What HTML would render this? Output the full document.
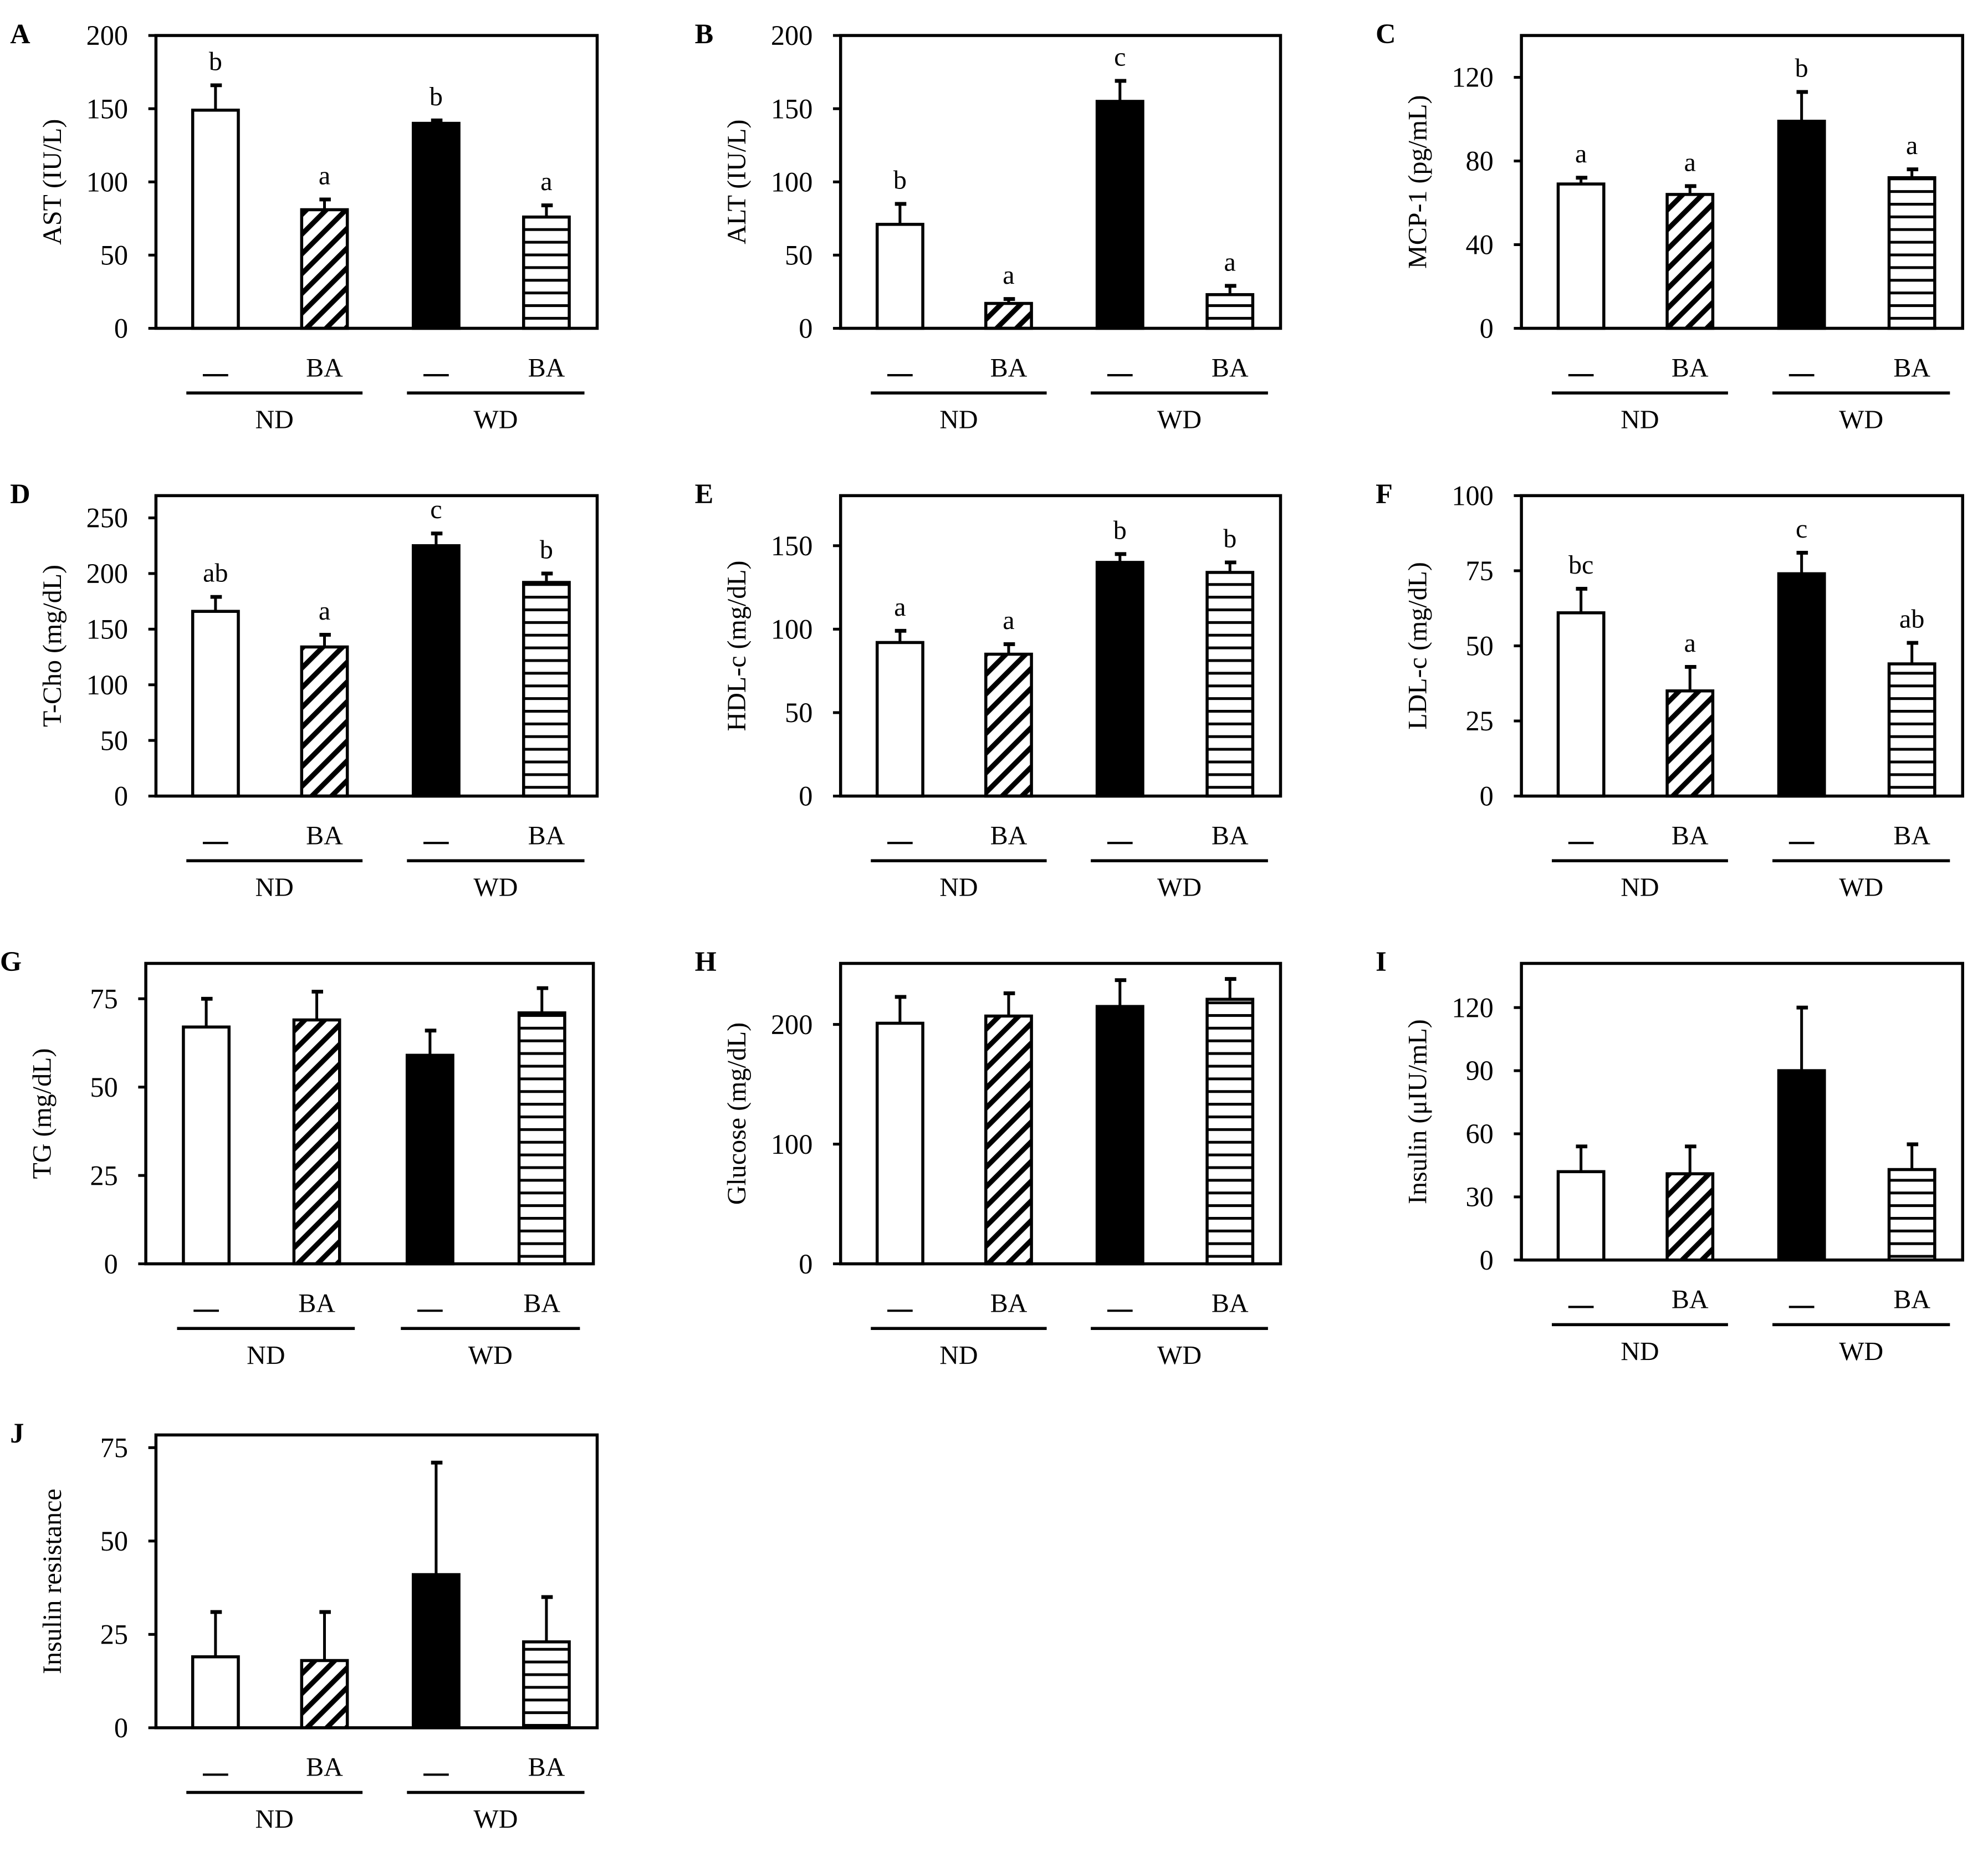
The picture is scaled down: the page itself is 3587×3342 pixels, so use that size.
<!DOCTYPE html>
<html><head><meta charset="utf-8">
<style>
html,body{margin:0;padding:0;background:#fff;}
svg{display:block;}
text{font-family:"Liberation Serif",serif;fill:#000;}
</style></head>
<body>
<svg id="fig" xmlns="http://www.w3.org/2000/svg" width="3587" height="3342" viewBox="0 0 1568 1461" preserveAspectRatio="none">
<defs>
<pattern id="diag" patternUnits="userSpaceOnUse" width="11" height="11" patternTransform="rotate(45)">
<rect width="11" height="11" fill="#fff"/><rect x="0" y="0" width="4" height="11" fill="#000"/>
</pattern>
<pattern id="horiz" patternUnits="userSpaceOnUse" width="10" height="10">
<rect width="10" height="10" fill="#fff"/><rect x="0" y="0" width="10" height="2.2" fill="#000"/>
</pattern>
</defs>
</svg>
<script>
// ---- data ----
const categories = ["ND —", "ND BA", "WD —", "WD BA"];
const meansA = [149, 81, 140, 76];   const errA = [17, 7, 2, 8];   const sigA = ["b","a","b","a"];
const meansB = [71, 17, 155, 23];    const errB = [14, 3, 14, 6];  const sigB = ["b","a","c","a"];
const meansC = [69, 64, 99, 72];     const errC = [3, 4, 14, 4];   const sigC = ["a","a","b","a"];
const meansD = [166, 134, 225, 192]; const errD = [13, 11, 11, 8]; const sigD = ["ab","a","c","b"];
const meansE = [92, 85, 140, 134];   const errE = [7, 6, 5, 6];    const sigE = ["a","a","b","b"];
const meansF = [61, 35, 74, 44];     const errF = [8, 8, 7, 7];    const sigF = ["bc","a","c","ab"];
const meansG = [67, 69, 59, 71];     const errG = [8, 8, 7, 7];    const sigG = ["","","",""];
const meansH = [201, 207, 215, 221]; const errH = [22, 19, 22, 17]; const sigH = ["","","",""];
const meansI = [42, 41, 90, 43];     const errI = [12, 13, 30, 12]; const sigI = ["","","",""];
const meansJ = [19, 18, 41, 23];     const errJ = [12, 13, 30, 12]; const sigJ = ["","","",""];
const ticksA = [0,50,100,150,200];
const ticksB = [0,50,100,150,200];
const ticksC = [0,40,80,120];
const ticksD = [0,50,100,150,200,250];
const ticksE = [0,50,100,150];
const ticksF = [0,25,50,75,100];
const ticksG = [0,25,50,75];
const ticksH = [0,100,200];
const ticksI = [0,30,60,90,120];
const ticksJ = [0,25,50,75];
const titles = ["AST (IU/L)","ALT (IU/L)","MCP-1 (pg/mL)","T-Cho (mg/dL)","HDL-c (mg/dL)","LDL-c (mg/dL)","TG (mg/dL)","Glucose (mg/dL)","Insulin (μIU/mL)","Insulin resistance"];
const letters = ["A","B","C","D","E","F","G","H","I","J"];
const maxes = [200,200,140,270,180,100,85,251,141,78.4];

const NS = "http://www.w3.org/2000/svg";
const svg = document.getElementById("fig");
function mk(tag, attrs, parent){
  const e = document.createElementNS(NS, tag);
  for (const k in attrs) e.setAttribute(k, attrs[k]);
  (parent||svg).appendChild(e);
  return e;
}
const layout = [
  {x0:123,x1:471,top:28,axis:259},{x0:663,x1:1010,top:28,axis:259},{x0:1200,x1:1548,top:28,axis:259},
  {x0:123,x1:471,top:391,axis:628},{x0:663,x1:1010,top:391,axis:628},{x0:1200,x1:1548,top:391,axis:628},
  {x0:115,x1:468,top:760,axis:997},{x0:663,x1:1010,top:760,axis:997},{x0:1200,x1:1548,top:760,axis:994},
  {x0:123,x1:471,top:1132,axis:1363}
];
const allMeans=[meansA,meansB,meansC,meansD,meansE,meansF,meansG,meansH,meansI,meansJ];
const allErr=[errA,errB,errC,errD,errE,errF,errG,errH,errI,errJ];
const allSig=[sigA,sigB,sigC,sigD,sigE,sigF,sigG,sigH,sigI,sigJ];
const allTicks=[ticksA,ticksB,ticksC,ticksD,ticksE,ticksF,ticksG,ticksH,ticksI,ticksJ];
const fracs=[0.135,0.382,0.635,0.885];
const fills=["#fff","url(#diag)","#000","url(#horiz)"];
const barW=36;

for (let p=0;p<10;p++){
  const L=layout[p], w=L.x1-L.x0;
  const g=mk("g",{});
  
  
  const y=v=>L.axis-(v/maxes[p])*(L.axis-L.top);
  const xc=i=>L.x0+fracs[i]*w;
  const lt=mk("text",{x:L.x0-115,y:L.top+6,"font-size":22,"font-weight":"bold"},g);
  lt.textContent=letters[p];
  
  
  allTicks[p].forEach(t=>{
    const ty=y(t);
    mk("line",{x1:L.x0-6,x2:L.x0,y1:ty,y2:ty,stroke:"#000","stroke-width":2.2},g);
    const tt=mk("text",{x:L.x0-22,y:ty+7.5,"font-size":22,"text-anchor":"end"},g);
    tt.textContent=t;
    
    
  });
  const ttl=mk("text",{x:0,y:0,"font-size":21,"text-anchor":"middle",transform:`translate(${L.x0-75},${(L.top+L.axis)/2}) rotate(-90)`},g);
  ttl.textContent=titles[p];
  
  
  for (let i=0;i<4;i++){
    const m=allMeans[p][i], e=allErr[p][i], cx=xc(i);
    const et=y(m+e);
    mk("line",{x1:cx,x2:cx,y1:y(m),y2:et,stroke:"#000","stroke-width":2.2},g);
    mk("line",{x1:cx-4,x2:cx+5,y1:et,y2:et,stroke:"#000","stroke-width":3},g);
    const r=mk("rect",{x:cx-barW/2,y:y(m),width:barW,height:L.axis-y(m),fill:fills[i],stroke:"#000","stroke-width":2.4},g);
    
    
    if (allSig[p][i]){
      const s=mk("text",{x:cx,y:et-12,"font-size":21,"text-anchor":"middle"},g);
      s.textContent=allSig[p][i];
      
      
    }
  }
  mk("rect",{x:L.x0,y:L.top,width:w,height:L.axis-L.top,fill:"none",stroke:"#000","stroke-width":2.4},g);
  for (let i=0;i<4;i++){
    const cx=xc(i);
    if (i%2===0){
      mk("line",{x1:cx-10,x2:cx+10,y1:L.axis+37,y2:L.axis+37,stroke:"#000","stroke-width":1.8},g);
    } else {
      const b=mk("text",{x:cx,y:L.axis+38,"font-size":21,"text-anchor":"middle"},g);
      b.textContent="BA";
      
      
    }
  }
  [["ND",0,1],["WD",2,3]].forEach(([lab,a,b])=>{
    const xa=xc(a)-23, xb=xc(b)+30;
    mk("line",{x1:xa,x2:xb,y1:L.axis+51,y2:L.axis+51,stroke:"#000","stroke-width":2.4},g);
    const d=mk("text",{x:(xa+xb)/2,y:L.axis+79,"font-size":21,"text-anchor":"middle"},g);
    d.textContent=lab;
    
    
  });
}
</script>
</body></html>
